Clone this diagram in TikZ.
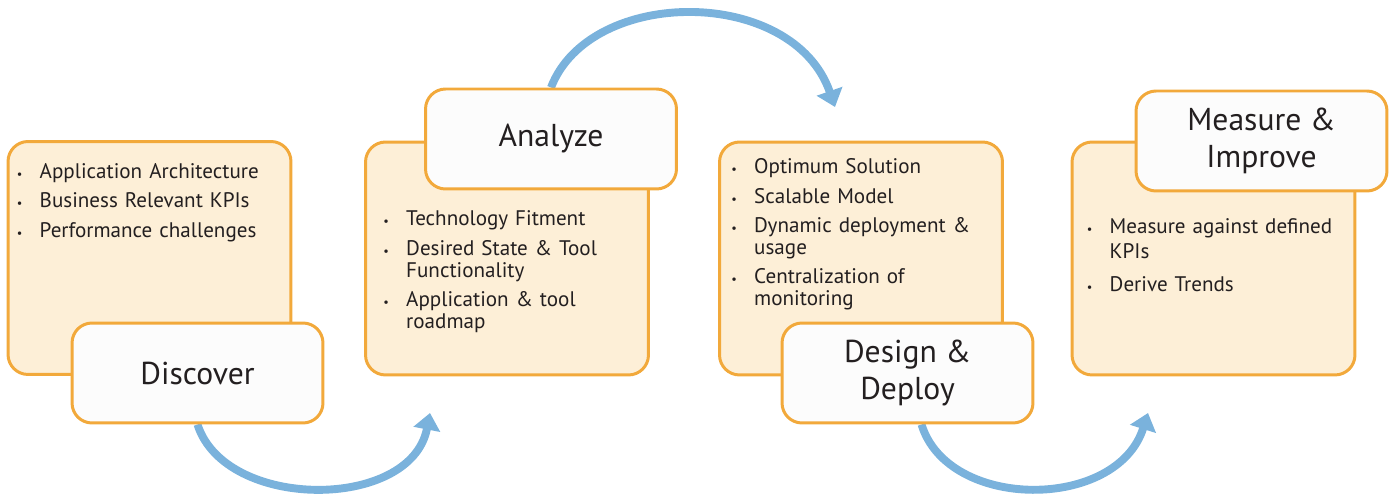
\documentclass[tikz,border=0pt]{standalone}
\usepackage{fontspec}
\setmainfont{PT Sans}
\usepackage{enumitem}
\usetikzlibrary{arrows.meta, calc, backgrounds}

\definecolor{phasefill}{HTML}{FDEFD7}
\definecolor{phaseline}{HTML}{F2A93B}
\definecolor{tagfill}{HTML}{FCFCFC}
\definecolor{flowblue}{HTML}{7AB2DC}
\definecolor{inkgray}{HTML}{231F20}

% bullet lists inside the phase boxes
\setlist[itemize]{label={\scriptsize\textbullet}, align=left, leftmargin=13pt,
  labelwidth=4pt, labelsep=9pt, topsep=0pt, partopsep=0pt, parsep=0pt, itemsep=4.2pt}

\tikzset{
    phasebox/.style={draw=phaseline, fill=phasefill, line width=1.7pt,
        rounded corners=0.4cm, minimum width=5.66cm, minimum height=4.66cm},
    tagbox/.style={draw=phaseline, fill=tagfill, line width=1.7pt,
        rounded corners=0.4cm, minimum width=5.02cm, minimum height=2cm,
        align=center, text=inkgray, font=\fontsize{18}{21.5}\selectfont},
    pointlist/.style={anchor=north west, inner sep=0pt, text width=5.2cm,
        text=inkgray, font=\fontsize{12}{12.5}\selectfont},
    flow/.style={draw=flowblue, line width=4.5pt,
        -{Triangle[length=9.5pt,width=15pt]}}
}

\begin{document}
\begin{tikzpicture}[x=0.02cm, y=-0.02cm]
    \useasboundingbox (0,0) rectangle (1393,496);
    % Orange phase boxes
    \node[phasebox] (discbox) at (149.5,258) {};
    \node[phasebox] (analbox) at (507,258.5) {};
    \node[phasebox] (depbox)  at (861,258.5) {};
    \node[phasebox] (measbox) at (1213.5,258.5) {};
    % Points of each phase
    \node[pointlist] (disclist) at ($(discbox.north west)+(10,16)$) {%
        \begin{itemize}
            \item Application Architecture
            \item Business Relevant KPIs
            \item Performance challenges
        \end{itemize}};
    \node[pointlist] (anallist) at ($(analbox.north west)+(19,63)$) {%
        \begin{itemize}
            \item Technology Fitment
            \item Desired State \& Tool\newline Functionality
            \item Application \& tool\newline roadmap
        \end{itemize}};
    \node[pointlist] (deplist) at ($(depbox.north west)+(13,11)$) {%
        \begin{itemize}
            \item Optimum Solution
            \item Scalable Model
            \item Dynamic deployment \&\newline usage
            \item Centralization of\newline monitoring
        \end{itemize}};
    \node[pointlist, font=\fontsize{12}{14.5}\selectfont] (measlist)
        at ($(measbox.north west)+(16,67)$) {%
        \begin{itemize}
            \item Measure against defined\newline KPIs
            \item Derive Trends
        \end{itemize}};
    % White phase tags
    \node[tagbox] (discover) at (197.5,373) {Discover};
    \node[tagbox] (analyze)  at (551,139)   {Analyze};
    \node[tagbox] (design)   at (907.5,373) {Design \&\\Deploy};
    \node[tagbox] (measure)  at (1261.5,141) {Measure \&\\Improve};
    % Flow arrows behind the boxes
    \begin{scope}[on background layer]
        \coordinate (disctip) at (430,413);
        \coordinate (analtip) at (835,107);
        \coordinate (deptip)  at (1148,413);
        \draw[flow] (discover.south) .. controls (225,511) and (411,511) .. (disctip);
        \draw[flow] (analyze.north) .. controls (590,-14) and (793,-14) .. (analtip);
        \draw[flow] ($(design.south)+(14,0)$) .. controls (948,511) and (1117,511) .. (deptip);
    \end{scope}
\end{tikzpicture}
\end{document}
